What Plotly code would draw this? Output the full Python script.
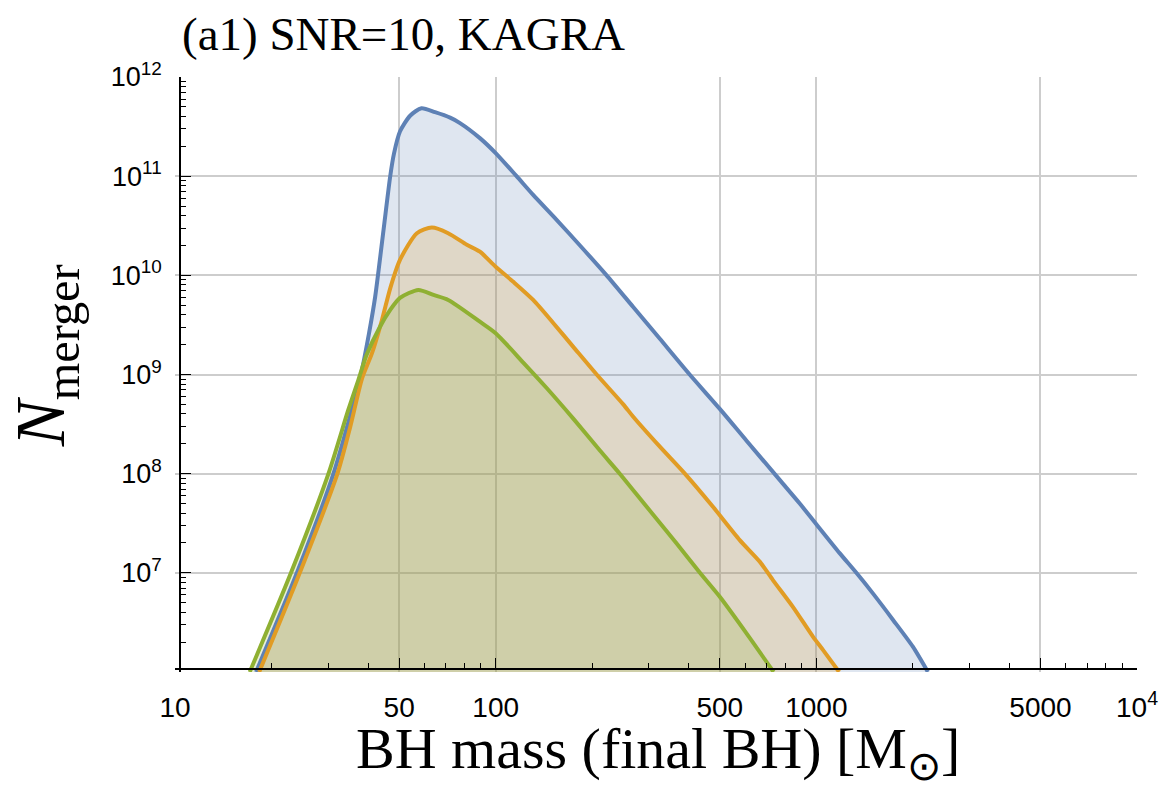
import plotly.graph_objects as go

# ---- data (BH mass in Msun, N_merger) ----
blue_mass = [17.9, 24.0, 31.2, 38.0, 40.3, 42.1, 44.7, 46.9, 48.2, 50.3, 54.1, 58.7,
             64.7, 72.1, 77.4, 89.3, 100, 116.2, 130.9, 154.9, 183.2, 221.8, 268.5,
             325.1, 402.7, 500, 605.7, 769.8, 887.6, 1000, 1182, 1333, 1503, 1735,
             2000, 2228]
blue_n = [1.0e6, 1.0e7, 1.0e8, 1.0e9, 2.63e9, 6.1e9, 2.87e10, 1.0e11, 1.7e11, 2.82e11,
          4.07e11, 4.84e11, 4.42e11, 3.89e11, 3.43e11, 2.42e11, 1.71e11, 1.0e11,
          6.47e10, 3.63e10, 2.0e10, 1.0e10, 4.79e9, 2.29e9, 1.0e9, 4.5e8, 2.15e8,
          8.6e7, 5.0e7, 3.09e7, 1.58e7, 1.0e7, 6.17e6, 3.35e6, 1.8e6, 1.0e6]

orange_mass = [18.3, 24.5, 32.1, 35.2, 38.3, 41.2, 44.2, 46.9, 50.3, 56.8, 63.2, 71.1,
               81.3, 89.3, 100, 113.5, 130.9, 151.4, 174.6, 206.5, 250, 268.5, 325.1,
               389, 476, 577, 667, 733, 845, 977, 1050, 1178]
orange_n = [1.0e6, 1.0e7, 1.0e8, 2.97e8, 9.1e8, 1.66e9, 3.55e9, 7.4e9, 1.43e10,
            2.66e10, 3.03e10, 2.66e10, 2.03e10, 1.73e10, 1.22e10, 8.6e9, 5.65e9,
            3.29e9, 1.9e9, 1.0e9, 5.0e8, 3.75e8, 1.87e8, 1.0e8, 4.63e7, 2.14e7,
            1.29e7, 8.4e6, 4.54e6, 2.26e6, 1.66e6, 1.0e6]

green_mass = [17.1, 23.0, 30.1, 34.7, 37.3, 39.6, 43.5, 46.9, 50.3, 57.4, 64.0, 71.1,
              89.3, 100, 121.9, 144.2, 174.6, 211.4, 243.8, 295.8, 366.8, 433.5, 500,
              605.7, 736]
green_n = [1.0e6, 1.0e7, 1.0e8, 4.39e8, 8.8e8, 1.58e9, 3.0e9, 4.48e9, 5.92e9, 7.13e9,
           6.34e9, 5.65e9, 3.41e9, 2.61e9, 1.32e9, 7.31e8, 3.59e8, 1.71e8, 1.0e8,
           4.63e7, 1.98e7, 1.0e7, 5.73e6, 2.45e6, 1.0e6]

x_tickvals = [10, 50, 100, 500, 1000, 5000, 10000]
x_ticktext = ["10", "50", "100", "500", "1000", "5000", "10<sup>4</sup>"]
x_minor = [20, 30, 40, 60, 70, 80, 90, 200, 300, 400, 600, 700, 800, 900,
           2000, 3000, 4000, 6000, 7000, 8000, 9000]
y_tickvals = [1e7, 1e8, 1e9, 1e10, 1e11, 1e12]
y_ticktext = ["10<sup>7</sup>", "10<sup>8</sup>", "10<sup>9</sup>",
              "10<sup>10</sup>", "10<sup>11</sup>", "10<sup>12</sup>"]
y_minor = [m * 10 ** e for e in range(6, 12) for m in range(2, 10)]

series = [
    (blue_mass, blue_n, "#5e81b5", "rgba(94,129,181,0.2)"),
    (orange_mass, orange_n, "#e19c24", "rgba(225,156,36,0.2)"),
    (green_mass, green_n, "#8fb032", "rgba(143,176,50,0.2)"),
]

fig = go.Figure()
for xs, ys, col, fcol in series:
    fig.add_trace(go.Scatter(x=xs, y=ys, mode="lines", fill="toself", fillcolor=fcol,
                             line=dict(width=0, shape="spline", smoothing=0.7),
                             hoverinfo="skip", showlegend=False))
for xs, ys, col, fcol in series:
    fig.add_trace(go.Scatter(x=xs, y=ys, mode="lines",
                             line=dict(color=col, width=4, shape="spline", smoothing=0.7),
                             showlegend=False))

W, H = 1160, 787
L, R, T, B = 174.8, 1137.5, 77.2, 671.8


def px(xp):
    return (xp - L) / (R - L)


def py(yp):
    return (B - yp) / (B - T)


fig.update_layout(
    width=W, height=H,
    margin=dict(l=L, r=W - R, t=T, b=H - B, autoexpand=False),
    paper_bgcolor="white", plot_bgcolor="white",
    xaxis=dict(type="log", range=[1, 4], anchor="free", position=py(668.7),
               showline=True, linecolor="black", linewidth=2.2,
               tickvals=x_tickvals, ticktext=x_ticktext, ticks="inside", ticklen=10,
               tickwidth=1.3, tickcolor="black",
               minor=dict(tickvals=x_minor, ticks="inside", ticklen=5, tickwidth=1,
                          tickcolor="black", showgrid=False),
               showgrid=True, gridcolor="#cdcdcd", gridwidth=2,
               tickfont=dict(family="Liberation Sans", size=28, color="black"),
               ticklabelstandoff=13, zeroline=False),
    yaxis=dict(type="log", range=[6, 12], anchor="free", position=px(180),
               showline=True, linecolor="black", linewidth=2.2,
               tickvals=y_tickvals, ticktext=y_ticktext, ticks="inside", ticklen=10,
               tickwidth=1.3, tickcolor="black",
               minor=dict(tickvals=y_minor, ticks="inside", ticklen=5, tickwidth=1,
                          tickcolor="black", showgrid=False),
               showgrid=True, gridcolor="#cdcdcd", gridwidth=2,
               tickfont=dict(family="Liberation Sans", size=27, color="black"),
               ticklabelstandoff=12, zeroline=False),
    annotations=[
        dict(text="(a1) SNR=10, KAGRA", xref="paper", yref="paper",
             x=px(180), y=py(6), xanchor="left", yanchor="top",
             showarrow=False, font=dict(family="Liberation Serif", size=47, color="black")),
        dict(text="BH mass (final BH) [M<sub>⊙</sub>]", xref="paper", yref="paper",
             x=px(658), y=py(752), xanchor="center", yanchor="middle",
             showarrow=False, font=dict(family="Liberation Serif", size=58, color="black")),
        dict(text="<i>N</i><sub>merger</sub>", xref="paper", yref="paper",
             x=px(46), y=py(356), xanchor="center", yanchor="middle",
             textangle=-90, showarrow=False,
             font=dict(family="Liberation Serif", size=69, color="black")),
    ],
)

fig.write_html("out.html", config={"displayModeBar": False},
               post_script="document.body.style.margin='0px';")
